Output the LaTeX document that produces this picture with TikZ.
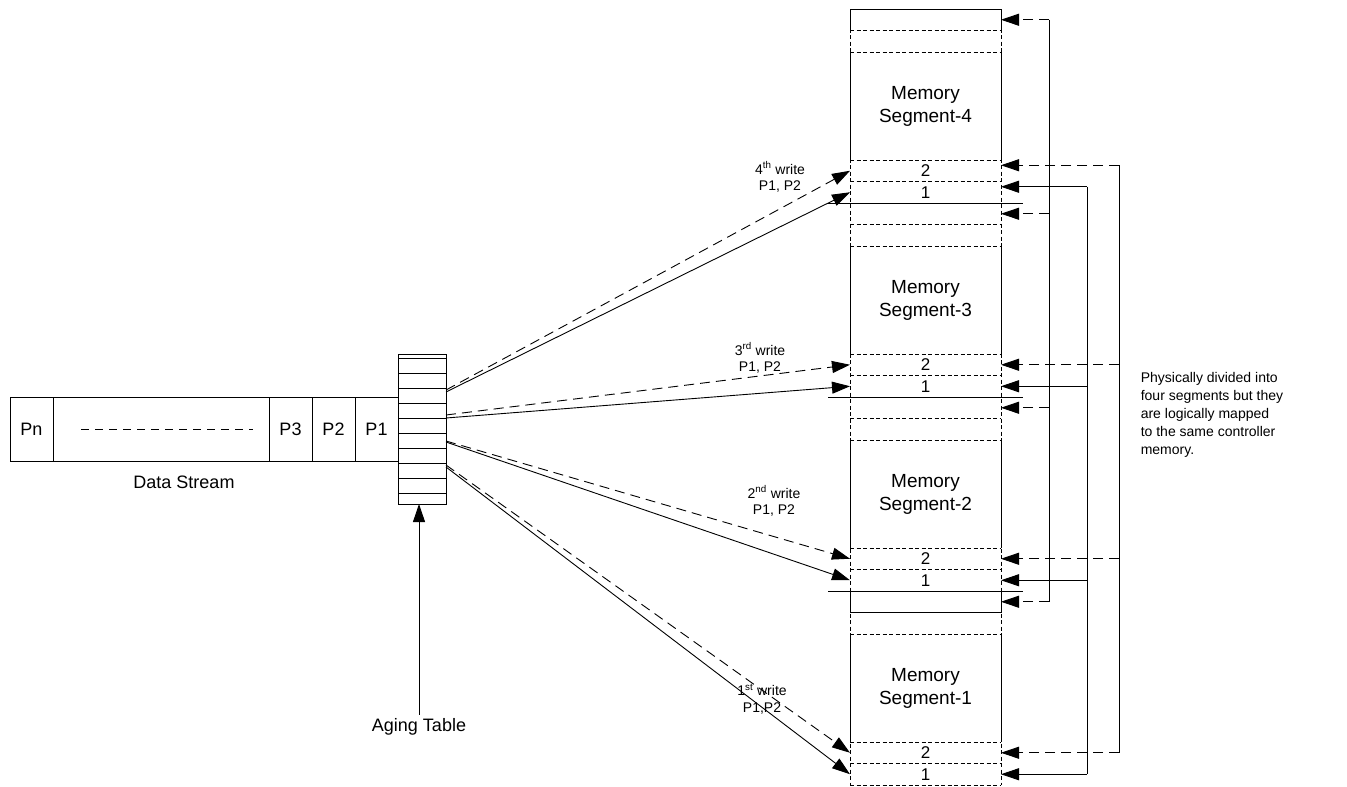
\documentclass[tikz,border=0pt]{standalone}
\usepackage{fontspec}
\setmainfont{Liberation Sans}
\usetikzlibrary{arrows.meta,calc,positioning}
\tikzset{
  pkt/.style={draw, minimum width=43pt, minimum height=64pt, inner sep=0pt, outer sep=0pt, font=\fontsize{18}{21}\selectfont},
  cell/.style={minimum width=151pt, minimum height=21.5pt, inner sep=0pt, outer sep=0pt, font=\fontsize{17}{20}\selectfont},
  memtxt/.style={minimum height=108pt, align=center, font=\fontsize{19}{23}\selectfont},
  celldash/.style={dash pattern=on 4pt off 2.5pt},
  conn/.style={-{Triangle[length=18pt,width=12pt]}},
  dconn/.style={conn, dash pattern=on 10pt off 6pt},
  wlbl/.style={align=center, font=\fontsize{14}{16.5}\selectfont},
  every picture/.style={line width=0.9pt, line join=miter}
}

\begin{document}
\begin{tikzpicture}[x=1pt, y=-1pt]
  \useasboundingbox (0,0) rectangle (1347,787);

  % data stream
  \node[pkt] (p1) at (376.5,429) {P1};
  \node[pkt, left=0pt of p1] (p2) {P2};
  \node[pkt, left=0pt of p2] (p3) {P3};
  \node[pkt, minimum width=216pt, left=0pt of p3] (gap) {};
  \node[pkt, left=0pt of gap] (pn) {Pn};
  \draw[dash pattern=on 8pt off 6pt] ([xshift=28pt]gap.west) -- ([xshift=-16pt]gap.east);
  \node[font=\fontsize{18}{21}\selectfont] (dslbl) at (184,482) {Data Stream};

  % aging table
  \node[draw, minimum width=48pt, minimum height=150pt, inner sep=0pt, outer sep=0pt] (age) at (422,429) {};
  \foreach \y in {358,373,...,493}
    \draw (age.west |- 0,\y) -- (age.east |- 0,\y);
  \node[font=\fontsize{18}{21}\selectfont] (agelbl) at (419,727) {Aging Table};
  \draw[conn] (agelbl.north) -- (agelbl.north |- age.south);

  % buses on the right
  \coordinate (busA) at (1049,0);
  \coordinate (busB) at (1087,0);
  \coordinate (busC) at (1119,0);

  % memory segments
  \foreach \k/\dy in {4/5.5,3/0,2/0,1/0}{
    \node[cell] (a\k) at (925.5,{9+(4-\k)*194+10.75}) {};
    \node[cell, below=0pt of a\k] (b\k) {};
    \node[cell, memtxt, below=0pt of b\k] (mem\k) {Memory\\Segment-\k};
    \node[cell, below=0pt of mem\k] (two\k) {2};
    \node[cell, below=0pt of two\k] (one\k) {1};
    \draw[celldash] (a\k.south west) -- (a\k.south east) (b\k.south west) -- (b\k.south east)
      (mem\k.south west) -- (mem\k.south east) (two\k.south west) -- (two\k.south east);
    \draw (mem\k.north west) -- (mem\k.south west) (mem\k.north east) -- (mem\k.south east);
    \coordinate (t\k) at ([yshift=\dy pt]two\k.east);
    \coordinate (o\k) at ([yshift=\dy pt]one\k.east);
  }
  \draw[celldash] (a4.north west) -- (one1.south west) (a4.north east) -- (one1.south east);
  \draw[celldash] (one1.south west) -- (one1.south east);
  \foreach \k in {4,3,2}
    \draw ([xshift=-22pt]one\k.south west) -- ([xshift=22pt]one\k.south east);
  \draw (a4.south west) |- (a4.north east) -- (a4.south east);
  \draw (a1.north west) rectangle (a1.south east);

  % wrap-around connectors
  \draw (a4.east -| busA) -- (a1.east -| busA);
  \draw (o4 -| busB) -- (o1 -| busB);
  \draw (t4 -| busC) -- (t1 -| busC);
  \foreach \k in {4,3,2,1}{
    \draw[dconn] (a\k.east -| busA) -- (a\k.east);
    \draw[dconn] (t\k -| busC) -- (t\k);
    \draw[conn] (o\k -| busB) -- (o\k);
  }

  % writes from the aging table
  \draw[dconn] ([yshift=39pt]age.east) -- (two4.west);
  \draw[conn] ([yshift=37pt]age.east) -- (one4.west);
  \draw[dconn] ([yshift=14pt]age.east) -- (two3.west);
  \draw[conn] ([yshift=11pt]age.east) -- (one3.west);
  \draw[dconn] ([yshift=-12pt]age.east) -- (two2.west);
  \draw[conn] ([yshift=-13pt]age.east) -- (one2.west);
  \draw[dconn] ([yshift=-36pt]age.east) -- (two1.west);
  \draw[conn] ([yshift=-38pt]age.east) -- (one1.west);

  \node[wlbl] (w4) at (780,177) {4\textsuperscript{th} write\\P1, P2};
  \node[wlbl] (w3) at (760,358) {3\textsuperscript{rd} write\\P1, P2};
  \node[wlbl] (w2) at (774,501) {2\textsuperscript{nd} write\\P1, P2};
  \node[wlbl] (w1) at (762,699) {1\textsuperscript{st} write\\P1,P2};

  \node[anchor=west, align=left, font=\fontsize{14}{18}\selectfont] (note) at (1137,415)
    {Physically divided into\\four segments but they\\are logically mapped\\to the same controller\\memory.};
\end{tikzpicture}
\end{document}
